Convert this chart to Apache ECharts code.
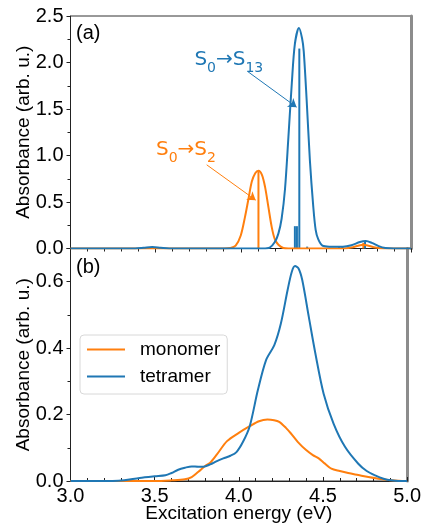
<!DOCTYPE html>
<html>
<head>
<meta charset="utf-8">
<script src="https://cdn.jsdelivr.net/npm/echarts@6/dist/echarts.min.js"></script>
<style>
  html, body { margin: 0; padding: 0; background: #fff; }
  #chart { width: 424px; height: 529px; }
</style>
</head>
<body>
<div id="chart"></div>
<script>
// (a) calculated spectra, [energy eV, absorbance]
var monoSpecA = [[3.0,0],[3.90,0],[3.94,0.005],[3.97,0.03],[4.00,0.14],[4.025,0.34],[4.045,0.53],[4.065,0.72],[4.085,0.81],[4.104,0.836],[4.125,0.79],[4.143,0.66],[4.162,0.45],[4.182,0.23],[4.20,0.1],[4.221,0.04],[4.25,0.005],[4.28,0],[4.60,0],[4.65,0.01],[4.69,0.03],[4.72,0.04],[4.75,0.03],[4.79,0.01],[4.84,0],[5.0,0]];
var tetraSpecA = [[3.0,0],[3.38,0],[3.43,0.007],[3.48,0.015],[3.53,0.007],[3.58,0],[4.13,0],[4.17,0.01],[4.20,0.07],[4.221,0.16],[4.24,0.32],[4.26,0.64],[4.28,1.2],[4.30,1.78],[4.318,2.2],[4.342,2.37],[4.36,2.26],[4.37,2.12],[4.387,1.6],[4.406,0.95],[4.426,0.45],[4.44,0.2],[4.455,0.1],[4.48,0.03],[4.52,0.02],[4.60,0.02],[4.65,0.035],[4.70,0.07],[4.735,0.08],[4.77,0.06],[4.81,0.025],[4.85,0.005],[4.90,0],[5.0,0]];
// transition sticks
var monoSticks = [[4.104,0.83],[4.72,0.06]];
var tetraSticks = [[4.318,0.24],[4.33,0.24],[4.344,2.15],[4.39,0.02],[4.577,0.02],[4.597,0.02],[4.73,0.07]];
// (b) spectra
var monoSpecB = [[3.0,0],[3.5,0],[3.6,0.002],[3.68,0.005],[3.72,0.012],[3.76,0.028],[3.80,0.045],[3.83,0.055],[3.87,0.08],[3.93,0.12],[4.0,0.145],[4.065,0.165],[4.12,0.18],[4.17,0.185],[4.21,0.183],[4.24,0.178],[4.28,0.16],[4.31,0.143],[4.35,0.118],[4.40,0.093],[4.44,0.078],[4.475,0.068],[4.51,0.053],[4.55,0.037],[4.60,0.03],[4.65,0.024],[4.71,0.018],[4.77,0.012],[4.83,0.007],[4.89,0.003],[4.95,0.001],[5.0,0]];
var tetraSpecB = [[3.0,0],[3.25,0],[3.32,0.002],[3.41,0.009],[3.5,0.014],[3.564,0.017],[3.6,0.024],[3.64,0.034],[3.68,0.04],[3.72,0.044],[3.76,0.043],[3.79,0.043],[3.83,0.05],[3.87,0.06],[3.908,0.068],[3.95,0.076],[3.986,0.087],[4.025,0.118],[4.065,0.165],[4.113,0.273],[4.162,0.364],[4.211,0.409],[4.25,0.474],[4.29,0.575],[4.315,0.63],[4.334,0.647],[4.355,0.64],[4.377,0.605],[4.416,0.494],[4.455,0.384],[4.504,0.263],[4.563,0.173],[4.631,0.103],[4.71,0.052],[4.76,0.03],[4.81,0.017],[4.86,0.007],[4.905,0.002],[4.95,0],[5.0,0]];
var legendNames = ['monomer', 'tetramer'];

var ORANGE = '#ff7f0e';
var BLUE = '#1f77b4';
var FONT = 'Liberation Sans, Arial, sans-serif';

var chart = echarts.init(document.getElementById('chart'));

function stickSeries(data, color) {
  return {
    type: 'custom',
    xAxisIndex: 0,
    yAxisIndex: 0,
    data: data,
    silent: true,
    z: 3,
    renderItem: function (params, api) {
      var p0 = api.coord([api.value(0), 0]);
      var p1 = api.coord([api.value(0), api.value(1)]);
      return {
        type: 'line',
        shape: { x1: p0[0], y1: p0[1], x2: p1[0], y2: p1[1] },
        style: { stroke: color, lineWidth: 2 }
      };
    }
  };
}

function labelRich(color) {
  return {
    s: { fontFamily: 'DejaVu Sans', fontSize: 20, color: color, lineHeight: 26, verticalAlign: 'top' },
    b: { fontFamily: 'DejaVu Sans', fontSize: 14, color: color, lineHeight: 14, verticalAlign: 'bottom' }
  };
}

var option = {
  animation: false,
  textStyle: { fontFamily: FONT },
  // frame drawn by the grid, axes on top of it
  grid: [
    { left: 70.5, right: 13, top: 16, height: 232.5, show: true, borderColor: '#333', borderWidth: 1 },
    { left: 70.5, right: 13, top: 248.5, height: 232.5, show: true, borderColor: '#333', borderWidth: 1 }
  ],
  xAxis: [
    {
      gridIndex: 0, type: 'value', min: 3, max: 5, interval: 0.5,
      axisLine: { show: true, onZero: false, lineStyle: { color: '#222', width: 1 } },
      axisTick: { show: true, inside: false, length: 4, lineStyle: { color: '#222' } },
      minorTick: { show: true, splitNumber: 5, length: 3, lineStyle: { color: '#222' } },
      axisLabel: { show: false },
      splitLine: { show: false }
    },
    {
      gridIndex: 1, type: 'value', min: 3, max: 5, interval: 0.5,
      axisLine: { show: true, onZero: false, lineStyle: { color: '#222', width: 1 } },
      axisTick: { show: true, inside: true, length: 4, lineStyle: { color: '#222' } },
      minorTick: { show: true, splitNumber: 5, length: 3, lineStyle: { color: '#222' } },
      axisLabel: { color: '#000', fontSize: 20, margin: 5, formatter: function (v) { return v.toFixed(1); } },
      splitLine: { show: false },
      name: 'Excitation energy (eV)', nameLocation: 'middle', nameGap: 23, nameMoveOverlap: false,
      nameTextStyle: { color: '#000', fontSize: 19 }
    }
  ],
  yAxis: [
    {
      gridIndex: 0, type: 'value', min: 0, max: 2.5, interval: 0.5,
      axisLine: { show: true, onZero: false, lineStyle: { color: '#222', width: 1 } },
      axisTick: { show: true, length: 4, lineStyle: { color: '#222' } },
      minorTick: { show: true, splitNumber: 2, length: 3, lineStyle: { color: '#222' } },
      axisLabel: { color: '#000', fontSize: 20, margin: 7, formatter: function (v) { return v.toFixed(1); } },
      splitLine: { show: false },
      name: 'Absorbance (arb. u.)', nameLocation: 'middle', nameGap: 37, nameMoveOverlap: false,
      nameTextStyle: { color: '#000', fontSize: 19 }
    },
    {
      gridIndex: 0, type: 'value', min: 0, max: 2.5, position: 'right',
      axisLine: { show: true, onZero: false, lineStyle: { color: '#8c8c8c', width: 3 } },
      axisTick: { show: false }, axisLabel: { show: false }, splitLine: { show: false }
    },
    {
      gridIndex: 1, type: 'value', min: 0, max: 0.7, interval: 0.2,
      axisLine: { show: true, onZero: false, lineStyle: { color: '#222', width: 1 } },
      axisTick: { show: true, length: 4, lineStyle: { color: '#222' } },
      minorTick: { show: true, splitNumber: 2, length: 3, lineStyle: { color: '#222' } },
      axisLabel: {
        color: '#000', fontSize: 20, margin: 7,
        formatter: function (v) { return v > 0.65 ? '' : v.toFixed(1); }
      },
      splitLine: { show: false },
      name: 'Absorbance (arb. u.)', nameLocation: 'middle', nameGap: 37, nameMoveOverlap: false,
      nameTextStyle: { color: '#000', fontSize: 19 }
    },
    {
      gridIndex: 1, type: 'value', min: 0, max: 0.7, position: 'right',
      axisLine: { show: true, onZero: false, lineStyle: { color: '#8c8c8c', width: 3 } },
      axisTick: { show: false }, axisLabel: { show: false }, splitLine: { show: false }
    }
  ],
  legend: {
    data: legendNames,
    orient: 'vertical',
    left: 80, top: 335,
    padding: [5, 7, 8, 7],
    itemGap: 8,
    itemWidth: 38, itemHeight: 2,
    icon: 'rect',
    backgroundColor: 'rgba(255,255,255,0.8)',
    borderColor: '#d8d8d8', borderWidth: 1, borderRadius: 4,
    textStyle: { fontSize: 19, color: '#000', padding: [0, 0, 0, 10] }
  },
  graphic: [
    { type: 'text', left: 76, top: 23, style: { text: '(a)', font: '20px Liberation Sans', fill: '#000' } },
    { type: 'text', left: 76, top: 257, style: { text: '(b)', font: '20px Liberation Sans', fill: '#000' } }
  ],
  series: [
    {
      name: 'monomer (a)', type: 'line', xAxisIndex: 0, yAxisIndex: 0,
      data: monoSpecA, smooth: 0.3, showSymbol: false, silent: true,
      lineStyle: { color: ORANGE, width: 2 }, itemStyle: { color: ORANGE },
      markLine: {
        silent: true, symbol: ['none', 'arrow'], symbolSize: 8,
        label: { show: false },
        lineStyle: { color: ORANGE, width: 1, type: 'solid' },
        data: [[{ coord: [3.80, 0.90] }, { coord: [4.088, 0.52] }]]
      },
      markPoint: {
        symbol: 'circle', symbolSize: 0, silent: true,
        label: { show: true, position: 'inside', formatter: '{s|S}{b|0}{s|→S}{b|2}', rich: labelRich(ORANGE) },
        data: [{ coord: [3.678, 1.03] }]
      }
    },
    {
      name: 'tetramer (a)', type: 'line', xAxisIndex: 0, yAxisIndex: 0,
      data: tetraSpecA, smooth: 0.3, showSymbol: false, silent: true,
      lineStyle: { color: BLUE, width: 2 }, itemStyle: { color: BLUE },
      markLine: {
        silent: true, symbol: ['none', 'arrow'], symbolSize: 8,
        label: { show: false },
        lineStyle: { color: BLUE, width: 1, type: 'solid' },
        data: [[{ coord: [4.043, 1.90] }, { coord: [4.328, 1.52] }]]
      },
      markPoint: {
        symbol: 'circle', symbolSize: 0, silent: true,
        label: { show: true, position: 'inside', formatter: '{s|S}{b|0}{s|→S}{b|13}', rich: labelRich(BLUE) },
        data: [{ coord: [3.93, 2.0] }]
      }
    },
    stickSeries(monoSticks, ORANGE),
    stickSeries(tetraSticks, BLUE),
    {
      name: 'monomer', type: 'line', xAxisIndex: 1, yAxisIndex: 2,
      data: monoSpecB, smooth: 0.3, showSymbol: false,
      lineStyle: { color: ORANGE, width: 2 }, itemStyle: { color: ORANGE }
    },
    {
      name: 'tetramer', type: 'line', xAxisIndex: 1, yAxisIndex: 2,
      data: tetraSpecB, smooth: 0.3, showSymbol: false,
      lineStyle: { color: BLUE, width: 2 }, itemStyle: { color: BLUE }
    }
  ]
};

chart.setOption(option);
</script>
</body>
</html>
